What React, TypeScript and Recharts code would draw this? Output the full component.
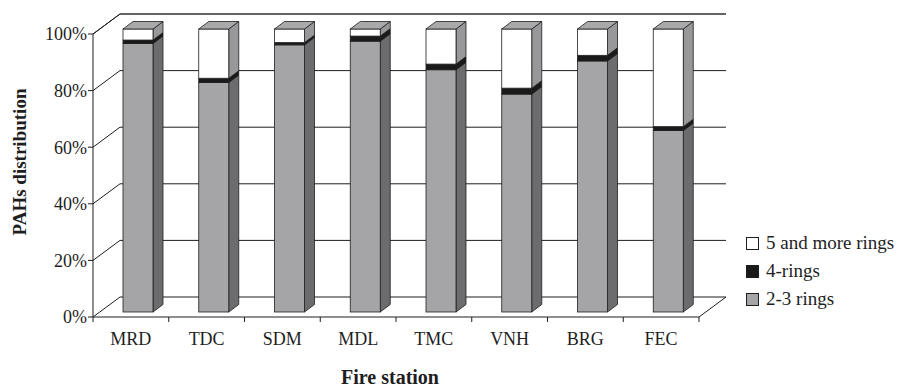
import { BarChart, Bar, XAxis, YAxis, CartesianGrid, Legend, Label } from 'recharts';

const stations = ['MRD', 'TDC', 'SDM', 'MDL', 'TMC', 'VNH', 'BRG', 'FEC'];
const rings23 = [94.9, 81.1, 94.4, 95.7, 85.6, 77, 88.7, 64.1];
const rings4 = [1.2, 1.5, 0.8, 1.8, 2, 2.1, 2, 1.4];
const rings5 = [3.9, 17.4, 4.8, 2.5, 12.4, 20.9, 9.3, 34.5];
const yTicks = [0, 20, 40, 60, 80, 100];

const data = stations.map((name, i) => ({
  name,
  r23: rings23[i],
  r4: rings4[i],
  r5: rings5[i],
}));

const FONT = '"Liberation Serif", "Times New Roman", serif';
const INK = '#1e1e1e';

// plot box (front plane)
const MARGIN = { top: 34, right: 201, bottom: 0, left: 0 };
const Y_AXIS_W = 93;
const X_AXIS_H = 71;
const PLOT_W = 900 - MARGIN.right - Y_AXIS_W;
const BAND = PLOT_W / stations.length;

// depth of the back wall / floor
const WALL_DX = 27;
const WALL_DY = -20;
// bars sit a bit behind the front plane, and have their own depth
const BAR_SHIFT_X = 7;
const BAR_SHIFT_Y = -5;
const BAR_DX = 10;
const BAR_DY = -7.5;

const TICK_GAP = 15;

function Block(props: any) {
  const { x, y, width, height, fill, side, cap } = props;
  if (width == null || height == null) return null;
  const fx = x + BAR_SHIFT_X;
  const fy = y + BAR_SHIFT_Y;
  const rx = fx + width;
  const bottom = fy + height;
  return (
    <g>
      <polygon
        points={`${rx},${fy} ${rx + BAR_DX},${fy + BAR_DY} ${rx + BAR_DX},${bottom + BAR_DY} ${rx},${bottom}`}
        fill={side}
        stroke={INK}
        strokeWidth={0.8}
        strokeLinejoin="round"
      />
      <rect x={fx} y={fy} width={width} height={height} fill={fill} stroke={INK} strokeWidth={0.8} />
      {cap && (
        <polygon
          points={`${fx},${fy} ${fx + BAR_DX},${fy + BAR_DY} ${rx + BAR_DX},${fy + BAR_DY} ${rx},${fy}`}
          fill="#a9a9ab"
          stroke={INK}
          strokeWidth={0.8}
          strokeLinejoin="round"
        />
      )}
    </g>
  );
}

function WallLine(p: any) {
  const { x1, y1, x2, y, height, index } = p;
  const isBottom = Math.abs(y1 - (y + height)) < 1;
  const isTop = Math.abs(y1 - y) < 1;
  return (
    <g key={`wall-${index}`}>
      <line x1={x1} y1={y1} x2={x1 + WALL_DX} y2={y1 + WALL_DY} stroke={INK} strokeWidth={1} />
      <line
        x1={x1 + WALL_DX}
        y1={y1 + WALL_DY}
        x2={x2 + WALL_DX}
        y2={y1 + WALL_DY}
        stroke={isTop ? '#5a5a5a' : INK}
        strokeWidth={isTop ? 1.6 : 1}
      />
      {isBottom && (
        <line x1={x2} y1={y1} x2={x2 + WALL_DX} y2={y1 + WALL_DY} stroke={INK} strokeWidth={1} />
      )}
    </g>
  );
}

function StationTick(p: any) {
  const { x, y, payload, index } = p;
  const axisY = y - TICK_GAP;
  const half = BAND / 2;
  return (
    <g>
      <line x1={x - half} y1={axisY} x2={x - half} y2={axisY + 5} stroke={INK} />
      {index === stations.length - 1 && (
        <line x1={x + half} y1={axisY} x2={x + half} y2={axisY + 5} stroke={INK} />
      )}
      <text x={x} y={y} dy="0.71em" textAnchor="middle" fontSize={18} fontFamily={FONT} fill={INK}>
        {payload.value}
      </text>
    </g>
  );
}

function LegendBox({ payload }: any) {
  const items = [...(payload || [])].reverse();
  return (
    <div style={{ fontFamily: FONT, fontSize: 19, color: INK }}>
      {items.map((item: any) => (
        <div key={item.value} style={{ display: 'flex', alignItems: 'center', height: 28 }}>
          <span
            style={{
              width: 11,
              height: 11,
              background: item.color,
              border: `1px solid ${INK}`,
              marginRight: 7,
              display: 'inline-block',
            }}
          />
          <span>{item.value}</span>
        </div>
      ))}
    </div>
  );
}

export default function App() {
  return (
    <div style={{ position: 'absolute', left: 0, top: 0, width: 900, height: 388, background: '#fff' }}>
      <BarChart width={900} height={388} data={data} margin={MARGIN} barSize={30}>
        <CartesianGrid vertical={false} horizontal={WallLine} />
        <XAxis
          dataKey="name"
          height={X_AXIS_H}
          interval={0}
          tickLine={false}
          tickSize={0}
          tickMargin={TICK_GAP}
          tick={StationTick}
          axisLine={{ stroke: INK }}
        >
          <Label
            content={() => (
              <text x={390} y={384} textAnchor="middle" fontSize={20} fontWeight="bold" fontFamily={FONT} fill={INK}>
                Fire station
              </text>
            )}
          />
        </XAxis>
        <YAxis
          width={Y_AXIS_W}
          domain={[0, 100]}
          ticks={yTicks}
          tickFormatter={(v: number) => `${v}%`}
          tickSize={5}
          tickMargin={1}
          tick={{ fontSize: 18, fontFamily: FONT, fill: INK }}
          axisLine={{ stroke: INK }}
          tickLine={{ stroke: INK }}
        >
          <Label
            content={() => (
              <text
                x={26}
                y={162}
                transform="rotate(-90 26 162)"
                textAnchor="middle"
                fontSize={19}
                fontWeight="bold"
                fontFamily={FONT}
                fill={INK}
              >
                PAHs distribution
              </text>
            )}
          />
        </YAxis>
        <Legend
          layout="vertical"
          align="center"
          verticalAlign="middle"
          content={LegendBox}
          wrapperStyle={{ position: 'absolute', left: 746, top: 229, width: 160 }}
        />
        <Bar
          dataKey="r23"
          name="2-3 rings"
          stackId="s"
          fill="#a5a5a7"
          isAnimationActive={false}
          shape={(p: any) => <Block {...p} fill="#a5a5a7" side="#6c6c6e" />}
        />
        <Bar
          dataKey="r4"
          name="4-rings"
          stackId="s"
          fill="#1a1a1a"
          isAnimationActive={false}
          shape={(p: any) => <Block {...p} fill="#1a1a1a" side="#1a1a1a" />}
        />
        <Bar
          dataKey="r5"
          name="5 and more rings"
          stackId="s"
          fill="#ffffff"
          isAnimationActive={false}
          shape={(p: any) => <Block {...p} fill="#ffffff" side="#98989a" cap />}
        />
      </BarChart>
    </div>
  );
}
